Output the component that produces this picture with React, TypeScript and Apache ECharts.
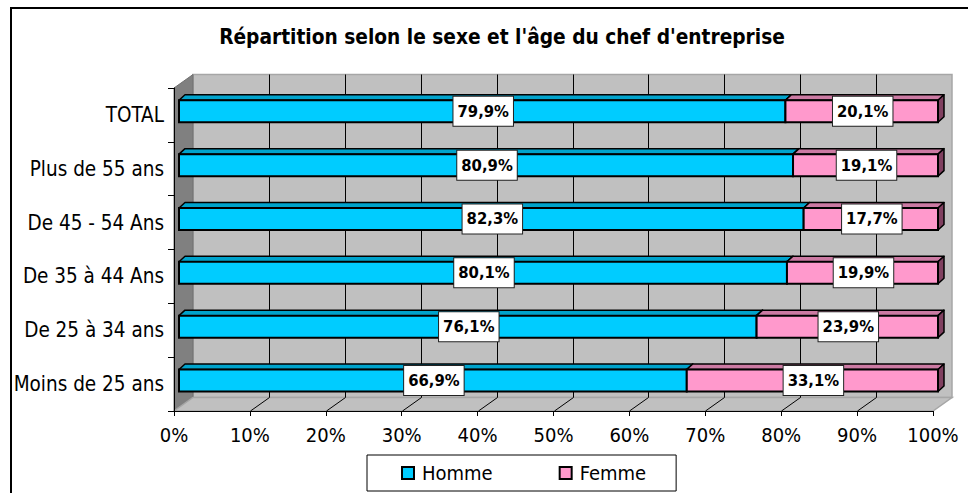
import React, { useEffect, useRef } from "react";
import * as echarts from "echarts";

const categories = [
  "TOTAL",
  "Plus de 55 ans",
  "De 45 - 54 Ans",
  "De 35 à 44 Ans",
  "De 25 à 34 ans",
  "Moins de 25 ans",
];
const homme = [79.9, 80.9, 82.3, 80.1, 76.1, 66.9];
const femme = [20.1, 19.1, 17.7, 19.9, 23.9, 33.1];
const xTicks = [0, 10, 20, 30, 40, 50, 60, 70, 80, 90, 100];
const titleText = "Répartition selon le sexe et l'âge du chef d'entreprise";

const FONT = "'DejaVu Sans Condensed', 'DejaVu Sans', sans-serif";
const DX = 19;
const DY = -13.5;
const FX = 5;
const FY = -3.6;
const BDX = 6;
const BDY = -5.5;
const BAR_H = 22;

const fmt = (v: number) => v.toFixed(1).replace(".", ",") + "%";

const renderWalls = (params: any, api: any) => {
  const cs = params.coordSys;
  const x = cs.x,
    y = cs.y,
    w = cs.width,
    h = cs.height;
  const children: any[] = [];
  children.push({
    type: "rect",
    shape: { x: x + DX, y: y + DY, width: w, height: h },
    style: { fill: "#C0C0C0", stroke: "#A6A6A6", lineWidth: 1.5 },
  });
  children.push({
    type: "polygon",
    shape: {
      points: [
        [x, y],
        [x + DX, y + DY],
        [x + DX, y + h + DY],
        [x, y + h],
      ],
    },
    style: { fill: "#808080", stroke: "#707070", lineWidth: 1 },
  });
  children.push({
    type: "polygon",
    shape: {
      points: [
        [x, y + h],
        [x + w, y + h],
        [x + w + DX, y + h + DY],
        [x + DX, y + h + DY],
      ],
    },
    style: { fill: "#C0C0C0", stroke: "#A6A6A6", lineWidth: 1.5 },
  });
  xTicks.forEach((t) => {
    if (t === 0 || t === 100) return;
    const p = api.coord([t, 0]);
    const px = Math.round(p[0]) + 0.5;
    children.push({
      type: "line",
      shape: { x1: px + DX, y1: y + DY, x2: px + DX, y2: y + h + DY },
      style: { stroke: "#000", lineWidth: 1 },
    });
    children.push({
      type: "line",
      shape: { x1: px, y1: y + h, x2: px + DX, y2: y + h + DY },
      style: { stroke: "#000", lineWidth: 1 },
    });
  });
  return { type: "group", children };
};

const makeRender =
  (face: string, top: string, side: string) => (params: any, api: any) => {
    const s = api.value(0);
    const e = api.value(1);
    const c = api.value(2);
    const v = api.value(3);
    const p0 = api.coord([s, c]);
    const p1 = api.coord([e, c]);
    const xs = p0[0] + FX;
    const xe = p1[0] + FX;
    const yc = p0[1] + FY;
    const yt = yc - BAR_H / 2;
    const yb = yc + BAR_H / 2;
    return {
      type: "group",
      children: [
        {
          type: "polygon",
          shape: {
            points: [
              [xs, yt],
              [xe, yt],
              [xe + BDX, yt + BDY],
              [xs + BDX, yt + BDY],
            ],
          },
          style: { fill: top, stroke: "#000", lineWidth: 1.5, lineJoin: "round" },
        },
        {
          type: "polygon",
          shape: {
            points: [
              [xe, yt],
              [xe + BDX, yt + BDY],
              [xe + BDX, yb + BDY],
              [xe, yb],
            ],
          },
          style: { fill: side, stroke: "#000", lineWidth: 1.5, lineJoin: "round" },
        },
        {
          type: "rect",
          shape: { x: xs, y: yt, width: xe - xs, height: yb - yt },
          style: { fill: face, stroke: "#000", lineWidth: 2 },
        },
        {
          type: "text",
          z2: 10,
          style: {
            text: fmt(v),
            x: (xs + xe) / 2 + 1,
            y: yc,
            align: "center",
            verticalAlign: "middle",
            fontFamily: FONT,
            fontWeight: "bold",
            fontSize: 16.5,
            fill: "#000",
            backgroundColor: "#fff",
            borderColor: "#222",
            borderWidth: 1,
            padding: [6, 4, 5, 4],
            lineHeight: 18,
          },
        },
      ],
    };
  };

export default function App() {
  const ref = useRef<HTMLDivElement>(null);
  useEffect(() => {
    if (!ref.current) return;
    const chart = echarts.init(ref.current, null, { renderer: "svg" });
    const hommeData = homme.map((v, i) => [0, v, i, v]);
    const femmeData = femme.map((v, i) => [homme[i], homme[i] + v, i, v]);
    chart.setOption({
      animation: false,
      backgroundColor: "#fff",
      title: {
        text: titleText,
        left: 497,
        top: 21,
        textAlign: "center",
        textStyle: {
          fontFamily: FONT,
          fontWeight: "bold",
          fontSize: 20.7,
          color: "#000",
        },
      },
      graphic: [
        {
          type: "rect",
          z: -10,
          shape: { x: 11, y: 8, width: 1000, height: 520 },
          style: { fill: "none", stroke: "#000", lineWidth: 2 },
        },
      ],
      grid: { left: 174, top: 88, width: 759, height: 323 },
      xAxis: {
        type: "value",
        min: 0,
        max: 100,
        interval: 10,
        z: 5,
        axisLine: { show: true, lineStyle: { color: "#000", width: 1 } },
        axisTick: { show: true, length: 5, lineStyle: { color: "#000" } },
        splitLine: { show: false },
        axisLabel: {
          margin: 14,
          fontFamily: FONT,
          fontSize: 20,
          color: "#000",
          formatter: (v: number) => v + "%",
        },
      },
      yAxis: {
        type: "category",
        data: categories,
        inverse: true,
        z: 5,
        axisLine: { show: true, lineStyle: { color: "#000", width: 1 } },
        axisTick: { show: true, length: 6, lineStyle: { color: "#000" } },
        axisLabel: {
          margin: 10,
          fontFamily: FONT,
          fontSize: 20.5,
          color: "#000",
        },
      },
      legend: {
        data: ["Homme", "Femme"],
        left: 367,
        top: 455,
        orient: "horizontal",
        padding: [8, 30, 8, 34],
        itemGap: 66,
        itemWidth: 12,
        itemHeight: 12,
        icon: "rect",
        borderColor: "#000",
        borderWidth: 1,
        backgroundColor: "#fff",
        itemStyle: { borderColor: "#000", borderWidth: 2 },
        textStyle: {
          fontFamily: FONT,
          fontSize: 20,
          color: "#000",
          padding: [0, 0, 0, 3],
        },
      },
      series: [
        {
          type: "custom",
          name: "walls",
          z: 1,
          silent: true,
          renderItem: renderWalls,
          encode: { x: 0, y: 1 },
          data: [[0, 0]],
        },
        {
          type: "custom",
          name: "Homme",
          z: 3,
          itemStyle: { color: "#00CCFF" },
          renderItem: makeRender("#00CCFF", "#00A3CC", "#007A99"),
          encode: { x: [0, 1], y: 2 },
          data: hommeData,
        },
        {
          type: "custom",
          name: "Femme",
          z: 3,
          itemStyle: { color: "#FF99CC" },
          renderItem: makeRender("#FF99CC", "#CC7AA3", "#804060"),
          encode: { x: [0, 1], y: 2 },
          data: femmeData,
        },
      ],
    });
    return () => chart.dispose();
  }, []);
  return (
    <div
      ref={ref}
      style={{ position: "absolute", left: 0, top: 0, width: 968, height: 493 }}
    />
  );
}
